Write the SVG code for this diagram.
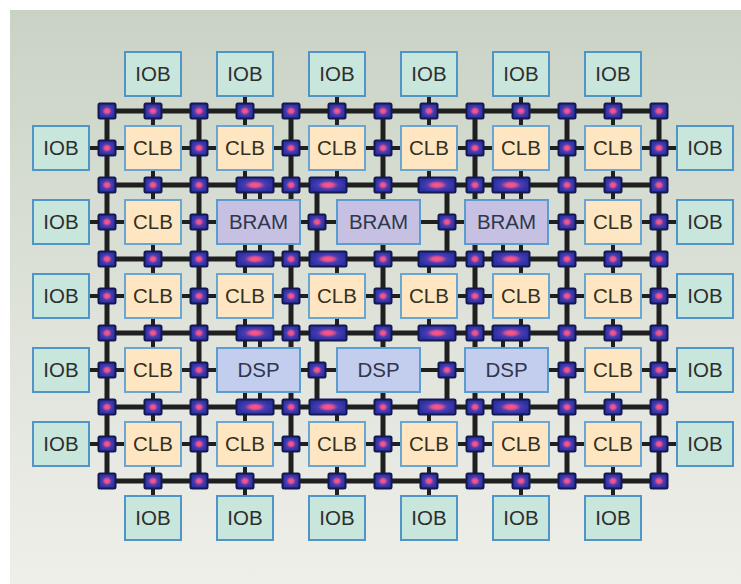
<svg xmlns="http://www.w3.org/2000/svg" xmlns:xlink="http://www.w3.org/1999/xlink" width="741" height="584" viewBox="0 0 741 584">
<defs>
<linearGradient id="bg" x1="0" y1="0" x2="0" y2="1">
<stop offset="0" stop-color="#c9d3c5"/>
<stop offset="0.55" stop-color="#dfe3da"/>
<stop offset="1" stop-color="#eeefe9"/>
</linearGradient>
<radialGradient id="swg" cx="0.5" cy="0.5" r="0.5">
<stop offset="0" stop-color="#ff5a88"/>
<stop offset="0.28" stop-color="#e4508c"/>
<stop offset="0.55" stop-color="#4a3cb2"/>
<stop offset="1" stop-color="#2a30a2"/>
</radialGradient>
<rect id="s" x="-8.5" y="-7.5" width="17" height="15" rx="1.5"/>
<rect id="w" x="-18.5" y="-7.5" width="37" height="15" rx="1.5"/>
<style>
.grid line{stroke:#1f1f1f;stroke-width:5;stroke-linecap:butt}
.stub line{stroke:#1f1f1f;stroke-width:4}
.sw use{fill:url(#swg);stroke:#141850;stroke-width:2}
.iob rect{fill:#c9e6dc;stroke:#4f95c8;stroke-width:2}
.clb rect{fill:#fde6c1;stroke:#6aa6d4;stroke-width:2}
.bram rect{fill:#c6c0e2;stroke:#5c9dd0;stroke-width:2}
.dsp rect{fill:#c3cdee;stroke:#5c9dd0;stroke-width:2}
text{font-family:"Liberation Sans",Arial,sans-serif;font-size:20.5px;text-anchor:middle;fill:#2e2e2e}
.clb text{fill:#35301f}
.bram text,.dsp text{fill:#30364e}
</style>
</defs>
<rect x="10" y="10" width="731" height="574" fill="url(#bg)"/>
<g id="connectors">
<g class="stub">
<line x1="89" y1="148" x2="677" y2="148"/>
<line x1="89" y1="222" x2="677" y2="222"/>
<line x1="89" y1="296" x2="677" y2="296"/>
<line x1="89" y1="370" x2="677" y2="370"/>
<line x1="89" y1="444" x2="677" y2="444"/>
<line x1="153" y1="96" x2="153" y2="496"/>
<line x1="245" y1="96" x2="245" y2="496"/>
<line x1="521" y1="96" x2="521" y2="496"/>
<line x1="613" y1="96" x2="613" y2="496"/>
<line x1="337" y1="96" x2="337" y2="185"/>
<line x1="337" y1="259" x2="337" y2="333"/>
<line x1="337" y1="407" x2="337" y2="496"/>
<line x1="429" y1="96" x2="429" y2="185"/>
<line x1="429" y1="259" x2="429" y2="333"/>
<line x1="429" y1="407" x2="429" y2="496"/>
<line x1="260" y1="185" x2="260" y2="259"/>
<line x1="260" y1="333" x2="260" y2="407"/>
<line x1="503" y1="185" x2="503" y2="259"/>
<line x1="503" y1="333" x2="503" y2="407"/>
</g>
<g class="grid">
<line x1="107" y1="111" x2="659" y2="111"/>
<line x1="107" y1="185" x2="659" y2="185"/>
<line x1="107" y1="259" x2="659" y2="259"/>
<line x1="107" y1="333" x2="659" y2="333"/>
<line x1="107" y1="407" x2="659" y2="407"/>
<line x1="107" y1="481" x2="659" y2="481"/>
<line x1="107" y1="111" x2="107" y2="481"/>
<line x1="199" y1="111" x2="199" y2="481"/>
<line x1="291" y1="111" x2="291" y2="481"/>
<line x1="383" y1="111" x2="383" y2="481"/>
<line x1="475" y1="111" x2="475" y2="481"/>
<line x1="567" y1="111" x2="567" y2="481"/>
<line x1="659" y1="111" x2="659" y2="481"/>
<line x1="317" y1="185" x2="317" y2="259"/>
<line x1="317" y1="333" x2="317" y2="407"/>
<line x1="447" y1="185" x2="447" y2="259"/>
<line x1="447" y1="333" x2="447" y2="407"/>
</g>
</g>
<g id="iob-top" class="iob">
<g id="iob-t1"><rect x="125" y="52" width="56" height="44"/><text x="153" y="81">IOB</text></g>
<g id="iob-t2"><rect x="217" y="52" width="56" height="44"/><text x="245" y="81">IOB</text></g>
<g id="iob-t3"><rect x="309" y="52" width="56" height="44"/><text x="337" y="81">IOB</text></g>
<g id="iob-t4"><rect x="401" y="52" width="56" height="44"/><text x="429" y="81">IOB</text></g>
<g id="iob-t5"><rect x="493" y="52" width="56" height="44"/><text x="521" y="81">IOB</text></g>
<g id="iob-t6"><rect x="585" y="52" width="56" height="44"/><text x="613" y="81">IOB</text></g>
</g>
<g id="iob-bottom" class="iob">
<g id="iob-b1"><rect x="125" y="496" width="56" height="44"/><text x="153" y="525">IOB</text></g>
<g id="iob-b2"><rect x="217" y="496" width="56" height="44"/><text x="245" y="525">IOB</text></g>
<g id="iob-b3"><rect x="309" y="496" width="56" height="44"/><text x="337" y="525">IOB</text></g>
<g id="iob-b4"><rect x="401" y="496" width="56" height="44"/><text x="429" y="525">IOB</text></g>
<g id="iob-b5"><rect x="493" y="496" width="56" height="44"/><text x="521" y="525">IOB</text></g>
<g id="iob-b6"><rect x="585" y="496" width="56" height="44"/><text x="613" y="525">IOB</text></g>
</g>
<g id="iob-left" class="iob">
<g id="iob-l1"><rect x="33" y="126" width="56" height="44"/><text x="61" y="155">IOB</text></g>
<g id="iob-l2"><rect x="33" y="200" width="56" height="44"/><text x="61" y="229">IOB</text></g>
<g id="iob-l3"><rect x="33" y="274" width="56" height="44"/><text x="61" y="303">IOB</text></g>
<g id="iob-l4"><rect x="33" y="348" width="56" height="44"/><text x="61" y="377">IOB</text></g>
<g id="iob-l5"><rect x="33" y="422" width="56" height="44"/><text x="61" y="451">IOB</text></g>
</g>
<g id="iob-right" class="iob">
<g id="iob-r1"><rect x="677" y="126" width="56" height="44"/><text x="705" y="155">IOB</text></g>
<g id="iob-r2"><rect x="677" y="200" width="56" height="44"/><text x="705" y="229">IOB</text></g>
<g id="iob-r3"><rect x="677" y="274" width="56" height="44"/><text x="705" y="303">IOB</text></g>
<g id="iob-r4"><rect x="677" y="348" width="56" height="44"/><text x="705" y="377">IOB</text></g>
<g id="iob-r5"><rect x="677" y="422" width="56" height="44"/><text x="705" y="451">IOB</text></g>
</g>
<g id="clbs" class="clb">
<g id="clb-1-1"><rect x="125" y="126" width="56" height="44"/><text x="153" y="155">CLB</text></g>
<g id="clb-1-2"><rect x="217" y="126" width="56" height="44"/><text x="245" y="155">CLB</text></g>
<g id="clb-1-3"><rect x="309" y="126" width="56" height="44"/><text x="337" y="155">CLB</text></g>
<g id="clb-1-4"><rect x="401" y="126" width="56" height="44"/><text x="429" y="155">CLB</text></g>
<g id="clb-1-5"><rect x="493" y="126" width="56" height="44"/><text x="521" y="155">CLB</text></g>
<g id="clb-1-6"><rect x="585" y="126" width="56" height="44"/><text x="613" y="155">CLB</text></g>
<g id="clb-2-1"><rect x="125" y="200" width="56" height="44"/><text x="153" y="229">CLB</text></g>
<g id="clb-2-6"><rect x="585" y="200" width="56" height="44"/><text x="613" y="229">CLB</text></g>
<g id="clb-3-1"><rect x="125" y="274" width="56" height="44"/><text x="153" y="303">CLB</text></g>
<g id="clb-3-2"><rect x="217" y="274" width="56" height="44"/><text x="245" y="303">CLB</text></g>
<g id="clb-3-3"><rect x="309" y="274" width="56" height="44"/><text x="337" y="303">CLB</text></g>
<g id="clb-3-4"><rect x="401" y="274" width="56" height="44"/><text x="429" y="303">CLB</text></g>
<g id="clb-3-5"><rect x="493" y="274" width="56" height="44"/><text x="521" y="303">CLB</text></g>
<g id="clb-3-6"><rect x="585" y="274" width="56" height="44"/><text x="613" y="303">CLB</text></g>
<g id="clb-4-1"><rect x="125" y="348" width="56" height="44"/><text x="153" y="377">CLB</text></g>
<g id="clb-4-6"><rect x="585" y="348" width="56" height="44"/><text x="613" y="377">CLB</text></g>
<g id="clb-5-1"><rect x="125" y="422" width="56" height="44"/><text x="153" y="451">CLB</text></g>
<g id="clb-5-2"><rect x="217" y="422" width="56" height="44"/><text x="245" y="451">CLB</text></g>
<g id="clb-5-3"><rect x="309" y="422" width="56" height="44"/><text x="337" y="451">CLB</text></g>
<g id="clb-5-4"><rect x="401" y="422" width="56" height="44"/><text x="429" y="451">CLB</text></g>
<g id="clb-5-5"><rect x="493" y="422" width="56" height="44"/><text x="521" y="451">CLB</text></g>
<g id="clb-5-6"><rect x="585" y="422" width="56" height="44"/><text x="613" y="451">CLB</text></g>
</g>
<g id="brams" class="bram">
<g id="bram-1"><rect x="217" y="200" width="83" height="44"/><text x="258.5" y="229">BRAM</text></g>
<g id="bram-2"><rect x="337" y="200" width="83" height="44"/><text x="378.5" y="229">BRAM</text></g>
<g id="bram-3"><rect x="465" y="200" width="83" height="44"/><text x="506.5" y="229">BRAM</text></g>
</g>
<g id="dsps" class="dsp">
<g id="dsp-1"><rect x="217" y="348" width="83" height="44"/><text x="258.5" y="377">DSP</text></g>
<g id="dsp-2"><rect x="337" y="348" width="83" height="44"/><text x="378.5" y="377">DSP</text></g>
<g id="dsp-3"><rect x="465" y="348" width="83" height="44"/><text x="506.5" y="377">DSP</text></g>
</g>
<g id="switch-boxes" class="sw">
<use href="#s" x="107" y="111"/><use href="#s" x="199" y="111"/><use href="#s" x="291" y="111"/><use href="#s" x="383" y="111"/><use href="#s" x="475" y="111"/><use href="#s" x="567" y="111"/><use href="#s" x="659" y="111"/>
<use href="#s" x="153" y="111"/><use href="#s" x="245" y="111"/><use href="#s" x="337" y="111"/><use href="#s" x="429" y="111"/><use href="#s" x="521" y="111"/><use href="#s" x="613" y="111"/>
<use href="#s" x="107" y="481"/><use href="#s" x="199" y="481"/><use href="#s" x="291" y="481"/><use href="#s" x="383" y="481"/><use href="#s" x="475" y="481"/><use href="#s" x="567" y="481"/><use href="#s" x="659" y="481"/>
<use href="#s" x="153" y="481"/><use href="#s" x="245" y="481"/><use href="#s" x="337" y="481"/><use href="#s" x="429" y="481"/><use href="#s" x="521" y="481"/><use href="#s" x="613" y="481"/>
<use href="#s" x="107" y="185"/><use href="#s" x="153" y="185"/><use href="#s" x="199" y="185"/><use href="#w" x="255" y="185"/><use href="#s" x="291" y="185"/><use href="#w" x="328" y="185"/><use href="#s" x="383" y="185"/><use href="#w" x="437" y="185"/><use href="#s" x="475" y="185"/><use href="#w" x="511" y="185"/><use href="#s" x="567" y="185"/><use href="#s" x="613" y="185"/><use href="#s" x="659" y="185"/>
<use href="#s" x="107" y="259"/><use href="#s" x="153" y="259"/><use href="#s" x="199" y="259"/><use href="#w" x="255" y="259"/><use href="#s" x="291" y="259"/><use href="#w" x="328" y="259"/><use href="#s" x="383" y="259"/><use href="#w" x="437" y="259"/><use href="#s" x="475" y="259"/><use href="#w" x="511" y="259"/><use href="#s" x="567" y="259"/><use href="#s" x="613" y="259"/><use href="#s" x="659" y="259"/>
<use href="#s" x="107" y="333"/><use href="#s" x="153" y="333"/><use href="#s" x="199" y="333"/><use href="#w" x="255" y="333"/><use href="#s" x="291" y="333"/><use href="#w" x="328" y="333"/><use href="#s" x="383" y="333"/><use href="#w" x="437" y="333"/><use href="#s" x="475" y="333"/><use href="#w" x="511" y="333"/><use href="#s" x="567" y="333"/><use href="#s" x="613" y="333"/><use href="#s" x="659" y="333"/>
<use href="#s" x="107" y="407"/><use href="#s" x="153" y="407"/><use href="#s" x="199" y="407"/><use href="#w" x="255" y="407"/><use href="#s" x="291" y="407"/><use href="#w" x="328" y="407"/><use href="#s" x="383" y="407"/><use href="#w" x="437" y="407"/><use href="#s" x="475" y="407"/><use href="#w" x="511" y="407"/><use href="#s" x="567" y="407"/><use href="#s" x="613" y="407"/><use href="#s" x="659" y="407"/>
<use href="#s" x="107" y="148"/><use href="#s" x="199" y="148"/><use href="#s" x="291" y="148"/><use href="#s" x="383" y="148"/><use href="#s" x="475" y="148"/><use href="#s" x="567" y="148"/><use href="#s" x="659" y="148"/>
<use href="#s" x="107" y="296"/><use href="#s" x="199" y="296"/><use href="#s" x="291" y="296"/><use href="#s" x="383" y="296"/><use href="#s" x="475" y="296"/><use href="#s" x="567" y="296"/><use href="#s" x="659" y="296"/>
<use href="#s" x="107" y="444"/><use href="#s" x="199" y="444"/><use href="#s" x="291" y="444"/><use href="#s" x="383" y="444"/><use href="#s" x="475" y="444"/><use href="#s" x="567" y="444"/><use href="#s" x="659" y="444"/>
<use href="#s" x="107" y="222"/><use href="#s" x="199" y="222"/><use href="#s" x="317" y="222"/><use href="#s" x="447" y="222"/><use href="#s" x="567" y="222"/><use href="#s" x="659" y="222"/>
<use href="#s" x="107" y="370"/><use href="#s" x="199" y="370"/><use href="#s" x="317" y="370"/><use href="#s" x="447" y="370"/><use href="#s" x="567" y="370"/><use href="#s" x="659" y="370"/>
</g>
</svg>
